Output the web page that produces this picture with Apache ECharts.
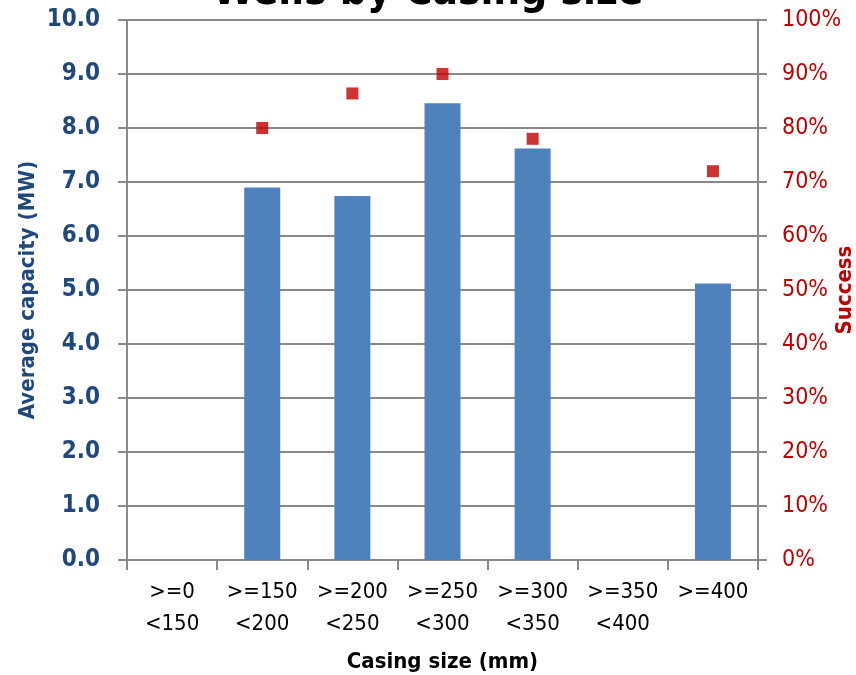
<!DOCTYPE html>
<html>
<head>
<meta charset="utf-8">
<style>
  html, body { margin: 0; padding: 0; background: #fff; }
  #chart { width: 856px; height: 675px; }
</style>
<script src="https://cdn.jsdelivr.net/npm/echarts@6/dist/echarts.min.js"></script>
</head>
<body>
<div id="chart"></div>
<script>
// Casing size bins (two-line labels)
const categories = ['>=0\n<150', '>=150\n<200', '>=200\n<250', '>=250\n<300', '>=300\n<350', '>=350\n<400', '>=400'];
// Average capacity per bin, MW (null = no wells)
const avgCapacity = [null, 6.90, 6.74, 8.46, 7.62, null, 5.12];
// Success rate per bin, fraction
const successRate = [null, 0.80, 0.864, 0.90, 0.78, null, 0.72];
// Axis ranges
const capacityAxis = { min: 0, max: 10, interval: 1 };
const successAxis = { min: 0, max: 1, interval: 0.1 };

const axisGrey = '#898989';
const blueText = '#1F497D';
const red = '#C00000';

const chart = echarts.init(document.getElementById('chart'), null, { renderer: 'canvas' });
chart.setOption({
  animation: false,
  backgroundColor: '#ffffff',
  title: {
    text: 'Wells by Casing size',
    left: 'center',
    top: -33,
    textStyle: { fontFamily: 'DejaVu Sans Condensed', fontWeight: 'bold', fontSize: 42, color: '#000' }
  },
  grid: { left: 127, right: 98, top: 20, bottom: 115, containLabel: false, outerBoundsMode: 'none' },
  xAxis: {
    type: 'category',
    data: categories,
    name: 'Casing size (mm)',
    nameLocation: 'middle',
    nameGap: 91,
    nameMoveOverlap: false,
    nameTextStyle: { fontFamily: 'DejaVu Sans Condensed', fontWeight: 'bold', fontSize: 22, color: '#000' },
    axisLine: { lineStyle: { color: axisGrey, width: 2 } },
    axisTick: { show: true, length: 10, alignWithLabel: false, lineStyle: { color: axisGrey, width: 2 } },
    axisLabel: {
      interval: 0,
      margin: 16,
      lineHeight: 32,
      fontFamily: 'DejaVu Sans Condensed',
      fontSize: 22,
      color: '#000'
    },
    splitLine: { show: false }
  },
  yAxis: [
    {
      type: 'value',
      min: capacityAxis.min,
      max: capacityAxis.max,
      interval: capacityAxis.interval,
      name: 'Average capacity (MW)',
      nameLocation: 'middle',
      nameGap: 88,
      nameMoveOverlap: false,
      nameTextStyle: { fontFamily: 'DejaVu Sans Condensed', fontWeight: 'bold', fontSize: 22, color: blueText },
      axisLine: { show: true, lineStyle: { color: axisGrey, width: 2 } },
      axisTick: { show: true, length: 9, lineStyle: { color: axisGrey, width: 2 } },
      axisLabel: {
        margin: 27,
        fontFamily: 'DejaVu Sans Condensed',
        fontWeight: 'bold',
        fontSize: 24,
        color: blueText,
        formatter: v => v.toFixed(1)
      },
      splitLine: { show: true, lineStyle: { color: axisGrey, width: 2 } }
    },
    {
      type: 'value',
      position: 'right',
      min: successAxis.min,
      max: successAxis.max,
      interval: successAxis.interval,
      name: 'Success',
      nameLocation: 'middle',
      nameGap: 76,
      nameRotate: 90,
      nameMoveOverlap: false,
      nameTextStyle: { fontFamily: 'DejaVu Sans Condensed', fontWeight: 'bold', fontSize: 22, color: red },
      axisLine: { show: true, lineStyle: { color: axisGrey, width: 2 } },
      axisTick: { show: true, length: 9, lineStyle: { color: axisGrey, width: 2 } },
      axisLabel: {
        margin: 24,
        fontFamily: 'DejaVu Sans Condensed',
        fontSize: 23,
        color: red,
        formatter: v => Math.round(v * 100) + '%'
      },
      splitLine: { show: false }
    }
  ],
  series: [
    {
      name: 'Average capacity',
      type: 'bar',
      yAxisIndex: 0,
      data: avgCapacity,
      barWidth: 36,
      itemStyle: { color: '#4F81BD' }
    },
    {
      name: 'Success',
      type: 'scatter',
      yAxisIndex: 1,
      data: successRate,
      symbol: 'rect',
      symbolSize: 12,
      itemStyle: { color: red }
    }
  ]
});
</script>
</body>
</html>
